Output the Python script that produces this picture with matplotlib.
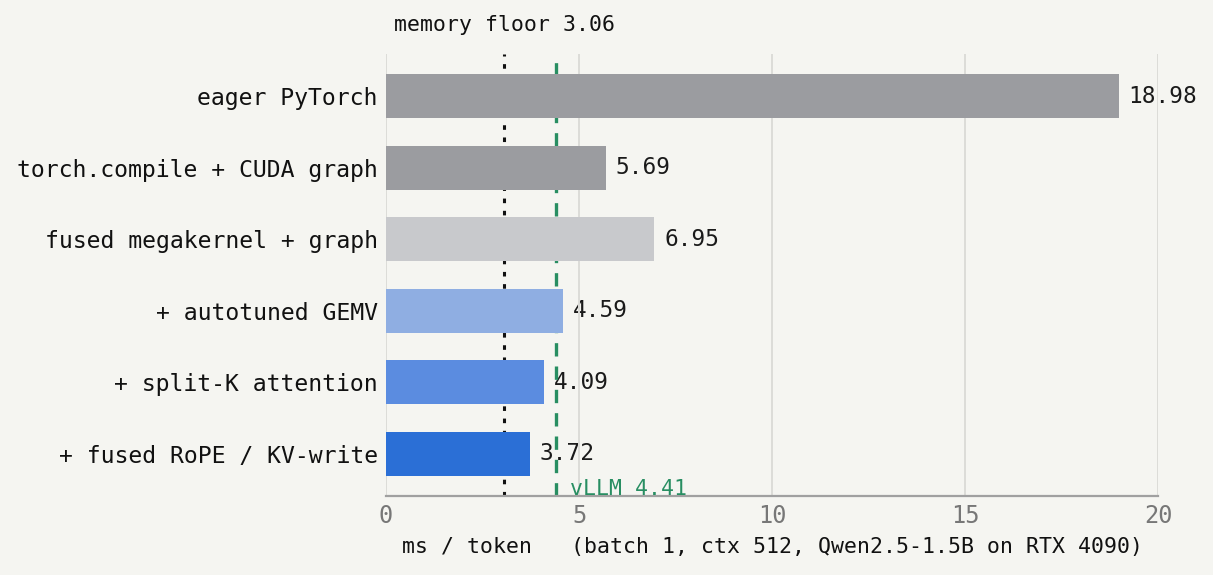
import matplotlib
matplotlib.use("Agg")
import matplotlib.pyplot as plt

labels = ["eager PyTorch", "torch.compile + CUDA graph", "fused megakernel + graph",
          "+ autotuned GEMV", "+ split-K attention", "+ fused RoPE / KV-write"]
ms_per_token = [18.98, 5.69, 6.95, 4.59, 4.09, 3.72]
bar_colors = ["#9b9ca0", "#9b9ca0", "#c8c9cc", "#8faee2", "#5b8ce0", "#2b6fd6"]
memory_floor = 3.06
vllm = 4.41

plt.rcParams['font.family'] = ['DejaVu Sans Mono', 'DejaVu Sans']
bg = "#f5f5f1"

fig = plt.figure(figsize=(12.13, 5.75), dpi=100, facecolor=bg)
ax = fig.add_axes([386/1213, 1 - 496/575, (1158 - 386)/1213, (496 - 54)/575])
ax.set_facecolor(bg)

y = list(range(len(labels)))
ax.barh(y, ms_per_token, height=0.62, color=bar_colors, zorder=3)
ax.invert_yaxis()

# reference lines sit behind the bars
ax.axvline(memory_floor, color="#111111", linestyle=(0, (1.5, 2.5)), linewidth=2.2, zorder=1)
ax.axvline(vllm, color="#288e62", linestyle=(0, (4, 3)), linewidth=2.4, zorder=1)

for i, v in enumerate(ms_per_token):
    ax.text(v + 0.26, i, f"{v:.2f}", va="center", ha="left", fontsize=16.4, color="#1a1a1a", zorder=0.5)

ax.text(memory_floor, 1.066, f"memory floor {memory_floor:.2f}", transform=ax.get_xaxis_transform(),
        ha="center", va="center", fontsize=15.5, color="#111111", clip_on=False)
ax.text(vllm + 0.36, 0.003, f"vLLM {vllm:.2f}", transform=ax.get_xaxis_transform(),
        ha="left", va="baseline", fontsize=15.5, color="#288e62", clip_on=True)

ax.set_xlim(0, 20)
ax.set_xticks([0, 5, 10, 15, 20])
ax.grid(axis="x", color="#dcdcd8", linewidth=1.4, zorder=0)
ax.set_axisbelow(True)
for s in ["top", "right", "left"]:
    ax.spines[s].set_visible(False)
ax.spines["bottom"].set_color("#a0a0a0")
ax.spines["bottom"].set_linewidth(1.6)

ax.set_yticks(y)
ax.set_yticklabels(labels, fontsize=16.7, color="#111111")
ax.tick_params(axis="y", length=0, pad=6)
ax.tick_params(axis="x", length=0, pad=6, labelsize=17, labelcolor="#777777")

ax.set_xlabel("ms / token   (batch 1, ctx 512, Qwen2.5-1.5B on RTX 4090)", fontsize=15.5,
              color="#111111", labelpad=6)

fig.savefig("out.png", dpi=100, facecolor=bg)
